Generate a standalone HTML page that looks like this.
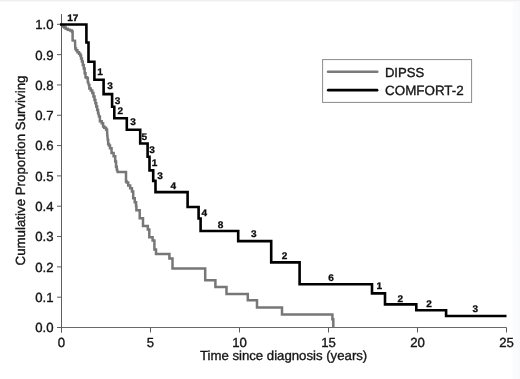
<!DOCTYPE html>
<html><head><meta charset="utf-8"><style>
html,body{margin:0;padding:0;background:#fff;}
svg{display:block;filter:blur(0.3px);}
.t{text-rendering:geometricPrecision;font-family:"Liberation Sans",sans-serif;font-size:13.2px;fill:#151515;stroke:#151515;stroke-width:0.35px;}
.n{text-rendering:geometricPrecision;font-family:"Liberation Sans",sans-serif;font-size:9.6px;font-weight:bold;fill:#0c0c0c;stroke:#0c0c0c;stroke-width:0.3px;}
</style></head><body>
<svg width="520" height="379" viewBox="0 0 520 379">
<defs><linearGradient id="rg" x1="0" x2="1" y1="0" y2="0"><stop offset="0" stop-color="#ffffff"/><stop offset="0.25" stop-color="#fcfcfd"/><stop offset="0.75" stop-color="#fbfbfc"/><stop offset="1" stop-color="#f7f8f9"/></linearGradient></defs><rect x="511" y="0" width="9" height="379" fill="url(#rg)"/><rect x="0" y="0" width="520" height="1" fill="#efefef"/><rect x="0" y="1" width="520" height="1" fill="#f8f8f8"/>
<line x1="61.5" y1="14" x2="61.5" y2="332.5" stroke="#5c5c5c" stroke-width="1"/>
<line x1="57.0" y1="327.5" x2="506.5" y2="327.5" stroke="#686868" stroke-width="1"/>
<line x1="57.0" y1="327.50" x2="61.5" y2="327.50" stroke="#5c5c5c" stroke-width="1"/>
<text x="53.6" y="332.40" class="t" text-anchor="end">0.0</text>
<line x1="57.0" y1="297.18" x2="61.5" y2="297.18" stroke="#5c5c5c" stroke-width="1"/>
<text x="53.6" y="302.08" class="t" text-anchor="end">0.1</text>
<line x1="57.0" y1="266.86" x2="61.5" y2="266.86" stroke="#5c5c5c" stroke-width="1"/>
<text x="53.6" y="271.76" class="t" text-anchor="end">0.2</text>
<line x1="57.0" y1="236.54" x2="61.5" y2="236.54" stroke="#5c5c5c" stroke-width="1"/>
<text x="53.6" y="241.44" class="t" text-anchor="end">0.3</text>
<line x1="57.0" y1="206.22" x2="61.5" y2="206.22" stroke="#5c5c5c" stroke-width="1"/>
<text x="53.6" y="211.12" class="t" text-anchor="end">0.4</text>
<line x1="57.0" y1="175.90" x2="61.5" y2="175.90" stroke="#5c5c5c" stroke-width="1"/>
<text x="53.6" y="180.80" class="t" text-anchor="end">0.5</text>
<line x1="57.0" y1="145.58" x2="61.5" y2="145.58" stroke="#5c5c5c" stroke-width="1"/>
<text x="53.6" y="150.48" class="t" text-anchor="end">0.6</text>
<line x1="57.0" y1="115.26" x2="61.5" y2="115.26" stroke="#5c5c5c" stroke-width="1"/>
<text x="53.6" y="120.16" class="t" text-anchor="end">0.7</text>
<line x1="57.0" y1="84.94" x2="61.5" y2="84.94" stroke="#5c5c5c" stroke-width="1"/>
<text x="53.6" y="89.84" class="t" text-anchor="end">0.8</text>
<line x1="57.0" y1="54.62" x2="61.5" y2="54.62" stroke="#5c5c5c" stroke-width="1"/>
<text x="53.6" y="59.52" class="t" text-anchor="end">0.9</text>
<line x1="57.0" y1="24.30" x2="61.5" y2="24.30" stroke="#5c5c5c" stroke-width="1"/>
<text x="53.6" y="29.20" class="t" text-anchor="end">1.0</text>
<line x1="61.50" y1="327.5" x2="61.50" y2="332.5" stroke="#5c5c5c" stroke-width="1"/>
<text x="61.50" y="347.3" class="t" text-anchor="middle">0</text>
<line x1="150.50" y1="327.5" x2="150.50" y2="332.5" stroke="#5c5c5c" stroke-width="1"/>
<text x="150.50" y="347.3" class="t" text-anchor="middle">5</text>
<line x1="239.50" y1="327.5" x2="239.50" y2="332.5" stroke="#5c5c5c" stroke-width="1"/>
<text x="239.50" y="347.3" class="t" text-anchor="middle">10</text>
<line x1="328.50" y1="327.5" x2="328.50" y2="332.5" stroke="#5c5c5c" stroke-width="1"/>
<text x="328.50" y="347.3" class="t" text-anchor="middle">15</text>
<line x1="417.50" y1="327.5" x2="417.50" y2="332.5" stroke="#5c5c5c" stroke-width="1"/>
<text x="417.50" y="347.3" class="t" text-anchor="middle">20</text>
<line x1="506.50" y1="327.5" x2="506.50" y2="332.5" stroke="#5c5c5c" stroke-width="1"/>
<text x="506.50" y="347.3" class="t" text-anchor="middle">25</text>
<text x="283.6" y="360" class="t" text-anchor="middle">Time since diagnosis (years)</text>
<text transform="translate(25.4,170.5) rotate(-90)" x="0" y="0" class="t" style="font-size:13.3px" text-anchor="middle">Cumulative Proportion Surviving</text>
<polyline points="62.50,25.30 63.00,25.30 63.00,26.50 63.50,26.50 64.25,26.50 64.25,27.50 65.00,27.50 65.75,27.50 65.75,28.80 66.50,28.80 67.75,28.80 67.75,29.80 69.00,29.80 70.00,29.80 70.00,30.60 71.00,30.60 71.80,30.60 71.80,31.50 72.60,31.50 72.60,40.50 75.00,40.80 75.30,48.60 76.00,48.60 76.00,50.20 76.70,50.20 77.45,50.20 77.45,52.20 78.20,52.20 79.00,52.20 79.00,53.80 79.80,53.80 80.20,53.80 80.20,55.50 80.60,55.50 81.05,55.50 81.05,58.50 81.50,58.50 81.90,58.50 81.90,61.50 82.30,61.50 82.80,61.50 82.80,65.00 83.30,65.00 83.75,65.00 83.75,68.50 84.20,68.50 84.65,68.50 84.65,73.30 85.10,73.30 85.50,73.30 85.50,77.20 85.90,77.20 86.65,77.20 86.65,77.90 87.40,77.90 87.80,77.90 87.80,82.00 88.20,82.00 88.80,85.00 89.35,85.00 89.35,88.40 89.90,88.40 90.80,88.40 90.80,90.40 91.70,90.40 92.30,90.40 92.30,93.00 92.90,93.00 93.45,93.00 93.45,96.60 94.00,96.60 94.50,96.60 94.50,100.00 95.00,100.00 95.40,100.00 95.40,103.20 95.80,103.20 96.25,103.20 96.25,106.50 96.70,106.50 97.15,106.50 97.15,110.00 97.60,110.00 98.05,110.00 98.05,113.00 98.50,113.00 99.00,116.60 99.90,116.60 99.90,121.20 100.80,121.20 101.70,121.20 101.70,123.20 102.60,123.20 103.10,123.20 103.10,126.50 103.60,126.50 104.30,126.50 104.30,127.80 105.00,127.80 106.00,127.80 106.00,129.50 107.00,129.50 107.30,135.00 107.80,140.00 108.15,140.00 108.15,144.00 108.50,144.00 108.95,144.00 108.95,145.50 109.40,145.50 110.00,145.50 110.00,148.30 110.60,148.30 111.55,148.30 111.55,152.90 112.50,152.90 113.60,152.90 113.60,156.20 114.70,156.20 115.20,156.20 115.20,161.50 115.70,161.50 116.05,161.50 116.05,166.80 116.40,166.80 116.80,166.80 116.80,169.50 117.20,169.50 117.60,172.00 126.00,172.00 126.00,181.50 126.70,181.50 126.70,182.50 127.40,182.50 128.20,182.50 128.20,185.40 129.00,185.40 130.15,185.40 130.15,188.20 131.30,188.20 131.95,188.20 131.95,191.60 132.60,191.60 133.20,191.60 133.20,198.20 133.80,198.20 134.75,198.20 134.75,202.20 135.70,202.20 136.05,202.20 136.05,206.00 136.40,206.00 136.40,210.30 139.70,210.30 139.70,218.20 143.00,218.20 143.00,226.10 147.80,226.10 147.80,229.60 149.30,229.60 149.30,237.30 152.60,237.30 152.60,240.60 154.40,240.60 154.40,249.50 156.00,249.50 156.00,253.90 169.40,253.90 169.40,258.60 172.50,258.60 172.50,268.40 205.20,268.40 205.20,280.20 215.40,280.20 215.40,286.90 226.50,286.90 226.50,294.00 247.80,294.00 247.80,300.20 257.00,300.20 257.00,307.50 282.00,307.50 282.00,314.50 332.40,314.50 332.40,319.30 333.30,319.30 333.30,327.50" fill="none" stroke="#777" stroke-width="2.5" stroke-linejoin="miter"/>
<polyline points="60.00,24.50 86.40,24.50 86.40,42.50 88.50,42.50 88.50,61.80 94.40,61.80 94.40,79.80 103.60,79.80 103.60,94.10 112.10,94.10 112.10,106.80 114.30,106.80 114.30,118.20 126.80,118.20 126.80,129.80 140.20,129.80 140.20,143.50 147.60,143.50 147.60,156.80 149.50,156.80 149.50,170.40 153.20,170.40 153.20,180.90 155.50,180.90 155.50,192.10 187.60,192.10 187.60,207.00 198.60,207.00 198.60,218.50 200.60,218.50 200.60,231.00 238.20,231.00 238.20,241.10 271.20,241.10 271.20,262.40 299.60,262.40 299.60,284.30 372.00,284.30 372.00,293.40 385.00,293.40 385.00,304.40 416.30,304.40 416.30,310.20 446.10,310.20 446.10,316.00 506.50,316.00" fill="none" stroke="#000" stroke-width="2.6" stroke-linejoin="miter"/>
<text transform="translate(72.75,21.00) scale(1.05,1)" class="n" text-anchor="middle">17</text>
<text transform="translate(100.15,75.00) scale(1.05,1)" class="n" text-anchor="middle">1</text>
<text transform="translate(109.94,89.00) scale(1.05,1)" class="n" text-anchor="middle">3</text>
<text transform="translate(117.46,104.00) scale(1.05,1)" class="n" text-anchor="middle">3</text>
<text transform="translate(120.38,114.00) scale(1.05,1)" class="n" text-anchor="middle">2</text>
<text transform="translate(132.99,125.00) scale(1.05,1)" class="n" text-anchor="middle">3</text>
<text transform="translate(144.43,140.00) scale(1.05,1)" class="n" text-anchor="middle">5</text>
<text transform="translate(151.95,153.00) scale(1.05,1)" class="n" text-anchor="middle">3</text>
<text transform="translate(154.60,166.00) scale(1.05,1)" class="n" text-anchor="middle">1</text>
<text transform="translate(160.15,179.00) scale(1.05,1)" class="n" text-anchor="middle">3</text>
<text transform="translate(173.40,189.00) scale(1.05,1)" class="n" text-anchor="middle">4</text>
<text transform="translate(204.40,216.00) scale(1.05,1)" class="n" text-anchor="middle">4</text>
<text transform="translate(220.44,228.00) scale(1.05,1)" class="n" text-anchor="middle">8</text>
<text transform="translate(253.74,237.00) scale(1.05,1)" class="n" text-anchor="middle">3</text>
<text transform="translate(284.45,259.00) scale(1.05,1)" class="n" text-anchor="middle">2</text>
<text transform="translate(331.18,281.00) scale(1.05,1)" class="n" text-anchor="middle">6</text>
<text transform="translate(379.29,289.00) scale(1.05,1)" class="n" text-anchor="middle">1</text>
<text transform="translate(400.38,302.00) scale(1.05,1)" class="n" text-anchor="middle">2</text>
<text transform="translate(429.18,307.00) scale(1.05,1)" class="n" text-anchor="middle">2</text>
<text transform="translate(475.39,312.00) scale(1.05,1)" class="n" text-anchor="middle">3</text>
<rect x="322.6" y="59.6" width="149" height="42.8" fill="none" stroke="#8a8a8a" stroke-width="1"/>
<line x1="328" y1="71.8" x2="377.3" y2="71.8" stroke="#7a7a7a" stroke-width="2.5" stroke-linecap="round"/>
<line x1="328.3" y1="90.2" x2="377" y2="90.2" stroke="#000" stroke-width="2.8" stroke-linecap="round"/>
<text x="384.9" y="76.6" class="t" style="font-size:13.1px">DIPSS</text>
<text x="385.1" y="95.3" class="t" style="font-size:13.4px">COMFORT-2</text>
</svg>
</body></html>
